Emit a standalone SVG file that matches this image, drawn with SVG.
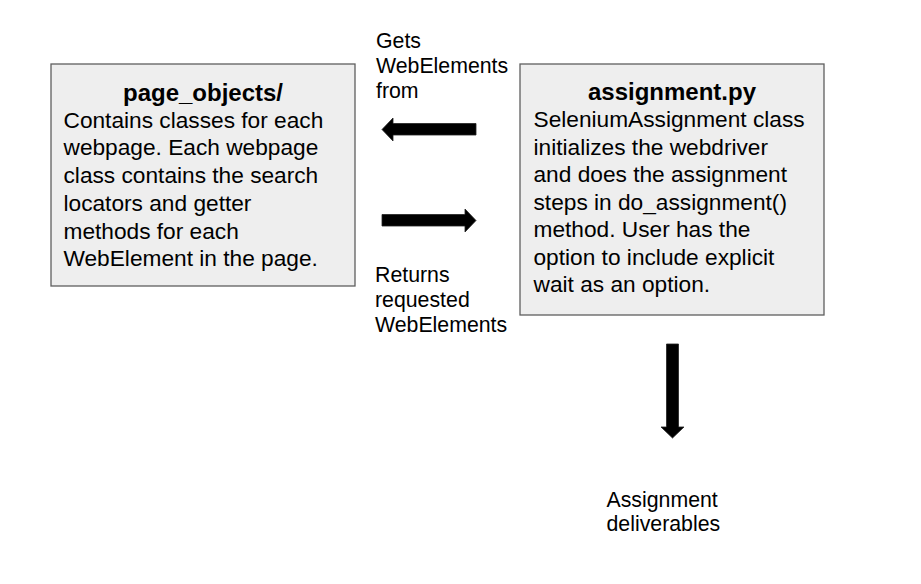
<svg xmlns="http://www.w3.org/2000/svg" width="921" height="584" viewBox="0 0 921 584">
<style>
.box{fill:#eeeeee;stroke:#5f5f5f;stroke-width:1.3}
.t{font-family:"Liberation Sans",Arial,sans-serif;fill:#000}
.title{font-size:24px;font-weight:bold}
.body{font-size:22.7px}
.lbl{font-size:21.3px}
.arr{fill:#000;stroke:#222;stroke-width:0.8}
</style>
<rect width="921" height="584" fill="#ffffff"/>
<g id="page_objects">
<rect class="box" x="51" y="64" width="304" height="222"/>
<text class="t title" x="203" y="101" text-anchor="middle">page_objects/</text>
<text class="t body" x="63.5">
<tspan x="63.5" y="127.7">Contains classes for each</tspan>
<tspan x="63.5" y="155.4">webpage. Each webpage</tspan>
<tspan x="63.5" y="183.1">class contains the search</tspan>
<tspan x="63.5" y="210.8">locators and getter</tspan>
<tspan x="63.5" y="238.5">methods for each</tspan>
<tspan x="63.5" y="266.2">WebElement in the page.</tspan>
</text>
</g>
<g id="assignment">
<rect class="box" x="520" y="64" width="304" height="251"/>
<text class="t title" x="672" y="100" text-anchor="middle">assignment.py</text>
<text class="t body">
<tspan x="533.5" y="127">SeleniumAssignment class</tspan>
<tspan x="533.5" y="154.5">initializes the webdriver</tspan>
<tspan x="533.5" y="182">and does the assignment</tspan>
<tspan x="533.5" y="209.5">steps in do_assignment()</tspan>
<tspan x="533.5" y="237">method. User has the</tspan>
<tspan x="533.5" y="264.5">option to include explicit</tspan>
<tspan x="533.5" y="292">wait as an option.</tspan>
</text>
</g>
<g id="deliverables">
<text class="t lbl">
<tspan x="606.5" y="506.5">Assignment</tspan>
<tspan x="606.5" y="531">deliverables</tspan>
</text>
</g>
<g id="connectors">
<polygon class="arr" points="382,129.5 393,118 393,123.5 476,123.5 476,135 393,135 393,141"/>
<polygon class="arr" points="476,220.5 465,209 465,214.5 382,214.5 382,226 465,226 465,232"/>
<polygon class="arr" points="672.5,438 661,427 666.5,427 666.5,344 678.5,344 678.5,427 684,427"/>
<text class="t lbl">
<tspan x="376" y="47.5">Gets</tspan>
<tspan x="376" y="73">WebElements</tspan>
<tspan x="376" y="98.3">from</tspan>
</text>
<text class="t lbl">
<tspan x="375" y="281.5">Returns</tspan>
<tspan x="375" y="307">requested</tspan>
<tspan x="375" y="332.3">WebElements</tspan>
</text>
</g>
</svg>
